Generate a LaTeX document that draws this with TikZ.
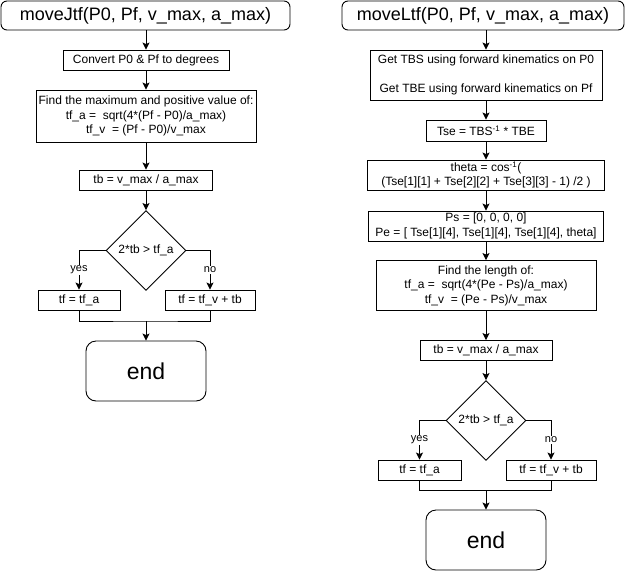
\documentclass[tikz,border=0pt]{standalone}
\usepackage{fontspec}
\setmainfont{Liberation Sans}
\usetikzlibrary{arrows.meta,shapes.geometric}

\begin{document}
\begin{tikzpicture}[x = 1pt, y = -1pt, >={Stealth[length = 7pt, width = 7pt, inset = 1.5pt]}, line width = 0.9pt]
\tikzstyle{StepStyle}=[shape = rectangle,
                         draw,
                         inner sep = 0pt,
                         minimum height = 20pt,
                         align = center,
                         font = \fontsize{12}{14.4}\selectfont]
\tikzstyle{HeadStyle}=[StepStyle, rounded corners = 6pt, minimum height = 29pt,
                         font = \fontsize{18}{21}\selectfont]
\tikzstyle{EndStyle}=[StepStyle, rounded corners = 10pt, minimum width = 120pt,
                         minimum height = 60pt, font = \fontsize{23}{26}\selectfont]
\tikzstyle{TestStyle}=[shape = diamond, draw, inner sep = 0pt,
                         minimum width = 80pt, minimum height = 80pt,
                         font = \fontsize{12}{14.4}\selectfont]
\tikzstyle{LabelStyle}=[fill = white, inner sep = 1pt,
                         font = \fontsize{11}{13}\selectfont]
\useasboundingbox (0,0) rectangle (631,571);
\node[HeadStyle, minimum width = 289pt] (j0) at (145.5, 15.5) {moveJtf(P0, Pf, v\_max, a\_max)};
\node[StepStyle, minimum width = 166pt] (j1) at (146, 60) {Convert P0 \& Pf to degrees};
\node[StepStyle, minimum width = 220pt, minimum height = 52pt] (j2) at (146, 116) {Find the maximum and positive value of:\\ tf\_a =\ \ sqrt(4*(Pf - P0)/a\_max)\\ tf\_v\ \ = (Pf - P0)/v\_max};
\node[StepStyle, minimum width = 133pt] (j3) at (146, 180) {tb = v\_max / a\_max};
\node[TestStyle] (j4) at (146, 250.5) {2*tb > tf\_a};
\node[StepStyle, minimum width = 82pt] (j5) at (79, 300) {tf = tf\_a};
\node[StepStyle, minimum width = 90pt] (j6) at (210, 300) {tf = tf\_v + tb};
\coordinate (jm) at (146, 321);
\node[EndStyle] (j7) at (146, 371) {end};
\draw[->] (j0.south -| j1.north) -- (j1);
\draw[->] (j1) -- (j2);
\draw[->] (j2) -- (j3);
\draw[->] (j3) -- (j4);
\draw[->] (j4.west) -| (j5.north) node[LabelStyle, pos = 0.75] {yes};
\draw[->] (j4.east) -| (j6.north) node[LabelStyle, pos = 0.75] {no};
\draw (j5.south) |- (jm) -| (j6.south);
\draw[->] (jm) -- (j7);
\node[HeadStyle, minimum width = 282pt] (l0) at (483, 15.5) {moveLtf(P0, Pf, v\_max, a\_max)};
\node[StepStyle, minimum width = 232pt, minimum height = 50pt] (l1) at (486, 75) {Get TBS using forward kinematics on P0\\[14.4pt] Get TBE using forward kinematics on Pf};
\node[StepStyle, minimum width = 120pt, minimum height = 21pt] (l2) at (486, 130.5) {Tse = TBS\textsuperscript{-1} * TBE};
\node[StepStyle, minimum width = 237pt, minimum height = 30pt] (l3) at (486, 175) {theta = cos\textsuperscript{-1}(\\ (Tse[1][1] + Tse[2][2] + Tse[3][3] - 1) /2 )};
\node[StepStyle, minimum width = 235pt, minimum height = 30pt] (l4) at (486, 226) {Ps = [0, 0, 0, 0]\\ Pe = [ Tse[1][4], Tse[1][4], Tse[1][4], theta]};
\node[StepStyle, minimum width = 220pt, minimum height = 50pt] (l5) at (486, 285.5) {Find the length of:\\ tf\_a =\ \ sqrt(4*(Pe - Ps)/a\_max)\\ tf\_v\ \ = (Pe - Ps)/v\_max};
\node[StepStyle, minimum width = 132pt] (l6) at (486, 350.5) {tb = v\_max / a\_max};
\node[TestStyle] (l7) at (486, 420.5) {2*tb > tf\_a};
\node[StepStyle, minimum width = 83pt] (l8) at (419.5, 470) {tf = tf\_a};
\node[StepStyle, minimum width = 90pt] (l9) at (551, 470) {tf = tf\_v + tb};
\coordinate (lm) at (486, 490);
\node[EndStyle] (l10) at (486, 540) {end};
\draw[->] (l0.south -| l1.north) -- (l1);
\draw[->] (l1) -- (l2);
\draw[->] (l2) -- (l3);
\draw[->] (l3) -- (l4);
\draw[->] (l4) -- (l5);
\draw[->] (l5) -- (l6);
\draw[->] (l6) -- (l7);
\draw[->] (l7.west) -| (l8.north) node[LabelStyle, pos = 0.75] {yes};
\draw[->] (l7.east) -| (l9.north) node[LabelStyle, pos = 0.75] {no};
\draw (l8.south) |- (lm) -| (l9.south);
\draw[->] (lm) -- (l10);
\end{tikzpicture}
\end{document}
